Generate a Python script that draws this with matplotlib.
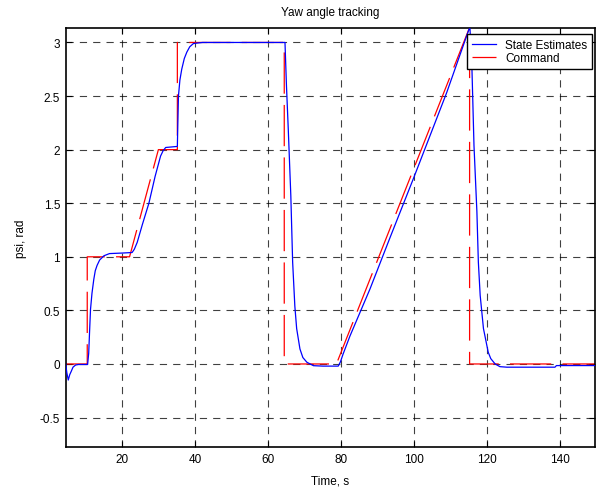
import matplotlib
matplotlib.use("Agg")
import matplotlib.pyplot as plt

# state estimate (blue)
est_t = [4.5, 4.8, 5.2, 5.6, 6.0, 6.5, 7.2, 8.0, 10.5, 10.8, 11.1, 11.3, 11.7, 12.2,
         12.6, 13.1, 13.8, 15.0, 16.5, 20.0, 22.7, 23.3, 24.1, 25.5, 27.3, 29.0, 30.5,
         31.2, 31.9, 35.1, 35.2, 35.4, 35.8, 36.3, 37.0, 37.7, 38.5, 39.5, 42.0, 64.6,
         65.0, 65.5, 66.2, 66.7, 67.3, 67.8, 68.7, 69.5, 70.6, 72.4, 75.0, 79.2, 79.8,
         80.5, 82.4, 87.9, 93.4, 99.8, 108.9, 115.0, 115.3, 115.8, 116.4, 117.2, 117.6,
         118.1, 119.0, 120.3, 121.0, 122.2, 123.5, 125.4, 138.6, 139.0, 150.0]
est_psi = [0.0, -0.08, -0.15, -0.10, -0.07, -0.03, -0.01, -0.005, -0.005, 0.10, 0.35,
           0.51, 0.66, 0.79, 0.87, 0.92, 0.97, 1.01, 1.03, 1.035, 1.04, 1.07, 1.135, 1.30,
           1.50, 1.75, 1.94, 1.99, 2.02, 2.03, 2.19, 2.50, 2.65, 2.75, 2.85, 2.91, 2.96,
           2.99, 3.0, 3.0, 2.6, 2.19, 1.57, 0.95, 0.54, 0.33, 0.14, 0.06, 0.016, -0.016,
           -0.02, -0.02, 0.02, 0.09, 0.26, 0.70, 1.18, 1.73, 2.53, 3.12, 3.13, 2.81, 2.04,
           1.42, 0.95, 0.64, 0.33, 0.11, 0.05, 0.0, -0.025, -0.03, -0.03, -0.015, -0.015]

# command (red)
cmd_t = [4.5, 10.4, 10.4, 22.0, 29.9, 35.1, 35.1, 64.4, 64.4, 78.7, 115.2, 115.2, 150.0]
cmd_psi = [0.0, 0.0, 1.0, 1.0, 2.0, 2.0, 3.0, 3.0, 0.0, 0.0, 3.14, 0.0, 0.0]

xticks = [20, 40, 60, 80, 100, 120, 140]
yticks = [-0.5, 0, 0.5, 1, 1.5, 2, 2.5, 3]
ytick_labels = ["-0.5", "0", "0.5", "1", "1.5", "2", "2.5", "3"]

plt.rcParams['font.family'] = ['Liberation Sans', 'DejaVu Sans']
plt.rcParams['font.size'] = 8.5

fig = plt.figure(figsize=(5.99, 4.89), dpi=100)
ax = fig.add_axes([0.1097, 0.0838, 0.8838, 0.8569])

ax.plot(est_t, est_psi, color='#0000ff', lw=0.9, label='State Estimates', zorder=3)
ax.plot(cmd_t, cmd_psi, color='#ff0000', lw=0.9, linestyle=(0, (33, 9)),
        label='Command', zorder=2)

ax.set_xlim(4.5, 149.6)
ax.set_ylim(-0.775, 3.135)
ax.set_xticks(xticks)
ax.set_yticks(yticks)
ax.set_yticklabels(ytick_labels)

ax.grid(True, color='k', lw=0.8, linestyle=(0, (6.5, 5.5)), alpha=0.75)
ax.tick_params(direction='in', top=True, right=True, length=4, width=0.8, pad=4,
               labelsize=8.5)
for s in ax.spines.values():
    s.set_linewidth(1.2)

ax.set_title("Yaw angle tracking", fontsize=8.5, pad=9)
ax.set_xlabel("Time, s", fontsize=8.5, labelpad=7)
ax.set_ylabel("psi, rad", fontsize=8.5, labelpad=9)

leg = ax.legend(loc='upper right', bbox_to_anchor=(0.9943, 0.9857), borderaxespad=0,
                fontsize=8.5, fancybox=False, framealpha=1, edgecolor='k',
                handlelength=2.0, borderpad=0.4, labelspacing=0.1, handletextpad=0.8)
leg.get_frame().set_linewidth(1.0)
leg.set_zorder(5)

fig.savefig("out.png", dpi=100)
